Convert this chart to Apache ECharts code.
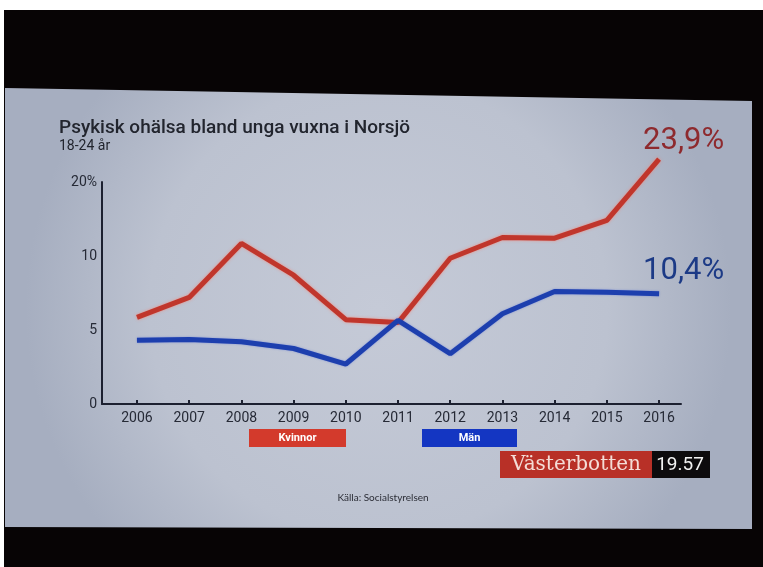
<!DOCTYPE html>
<html>
<head>
<meta charset="utf-8">
<script src="https://cdn.jsdelivr.net/npm/echarts@6/dist/echarts.min.js"></script>
<style>
html,body{margin:0;padding:0;background:#fff;}
#chart{width:763px;height:567px;}
</style>
</head>
<body>
<div id="chart"></div>
<script>
// ---- data ----
var years = [2006, 2007, 2008, 2009, 2010, 2011, 2012, 2013, 2014, 2015, 2016];
var seriesNames = ['Kvinnor', 'Män'];
var kvinnor = [5.85, 7.2, 10.85, 8.7, 5.7, 5.5, 9.85, 11.25, 11.2, 12.4, 16.55];
var man = [4.3, 4.35, 4.2, 3.75, 2.7, 5.65, 3.4, 6.1, 7.6, 7.55, 7.45];
var endLabels = ['23,9%', '10,4%'];
var yTickValues = [0, 5, 10, 15];
var yTickLabels = ['0', '5', '10', '20%'];
var titleText = 'Psykisk ohälsa bland unga vuxna i Norsjö';
var subtitleText = '18-24 år';
var sourceText = 'Källa: Socialstyrelsen';
var badgeRegion = 'Västerbotten';
var badgeTime = '19.57';

var lineColors = ['#c0362c', '#1d3fae'];
var labelColors = ['#8e2a2e', '#1c3a86'];

function buildData(vals) {
  return vals.map(function (v, i) { return [years[i], v]; });
}

function endLabel(idx, offset) {
  return {
    show: true,
    formatter: endLabels[idx],
    color: labelColors[idx],
    fontSize: 31,
    fontFamily: 'Roboto, sans-serif',
    fontWeight: 400,
    distance: 0,
    offset: offset
  };
}

var chart = echarts.init(document.getElementById('chart'), null, { renderer: 'canvas' });

var option = {
  backgroundColor: '#ffffff',
  animation: false,
  graphic: [
    { type: 'rect', z: -10, shape: { x: 4, y: 10, width: 759, height: 557 }, style: { fill: '#070405' } },
    {
      type: 'polygon', z: -9,
      shape: { points: [[5, 88], [752, 101], [752, 529], [5, 527]] },
      style: {
        fill: {
          type: 'radial', x: 0.5, y: 0.5, r: 0.8,
          colorStops: [
            { offset: 0, color: '#c5cad7' },
            { offset: 0.65, color: '#bcc2d0' },
            { offset: 1, color: '#a6aec0' }
          ]
        }
      }
    },
    // legend boxes
    { type: 'rect', shape: { x: 249, y: 429, width: 97, height: 18 }, style: { fill: '#d33a2c' } },
    { type: 'text', x: 297.5, y: 438, style: { text: seriesNames[0], fill: '#ffffff', font: 'bold 11px Roboto, sans-serif', align: 'center', verticalAlign: 'middle' } },
    { type: 'rect', shape: { x: 422, y: 429, width: 95, height: 18 }, style: { fill: '#1436c2' } },
    { type: 'text', x: 469.5, y: 438, style: { text: seriesNames[1], fill: '#ffffff', font: 'bold 11px Roboto, sans-serif', align: 'center', verticalAlign: 'middle' } },
    // badge
    { type: 'rect', shape: { x: 500, y: 451, width: 152, height: 27 }, style: { fill: '#b83027' } },
    { type: 'rect', shape: { x: 652, y: 451, width: 58, height: 27 }, style: { fill: '#0d0b0d' } },
    { type: 'text', x: 576, y: 465, style: { text: badgeRegion, fill: '#f4dcd6', font: '20px "DejaVu Serif", serif', align: 'center', verticalAlign: 'middle' } },
    { type: 'text', x: 680, y: 465, style: { text: badgeTime, fill: '#f2f2f2', font: '19px Roboto, sans-serif', align: 'center', verticalAlign: 'middle' } },
    // source
    { type: 'text', x: 383, y: 498, style: { text: sourceText, fill: '#2b2d36', font: '10px Lato, sans-serif', align: 'center', verticalAlign: 'middle' } }
  ],
  title: {
    text: titleText,
    subtext: subtitleText,
    left: 59,
    top: 119,
    itemGap: 1,
    padding: 0,
    textStyle: { color: '#22252e', fontSize: 19, fontWeight: 500, fontFamily: 'Roboto, sans-serif' },
    subtextStyle: { color: '#22252e', fontSize: 14, fontFamily: 'Roboto, sans-serif' }
  },
  grid: { left: 102, right: 82, top: 182, bottom: 163, containLabel: false },
  xAxis: {
    type: 'value',
    min: 2005.33,
    max: 2016.42,
    splitLine: { show: false },
    axisLine: { show: true, lineStyle: { color: '#1c2030', width: 2 } },
    axisTick: { show: true, inside: true, length: 4, customValues: years, lineStyle: { color: '#1c2030', width: 2 } },
    axisLabel: {
      customValues: years,
      formatter: function (v) { return String(v); },
      color: '#262a36', fontSize: 14, margin: 7, fontFamily: 'Roboto, sans-serif'
    }
  },
  yAxis: {
    type: 'value',
    min: 0,
    max: 15,
    interval: 5,
    splitLine: { show: false },
    axisLine: { show: true, lineStyle: { color: '#1c2030', width: 2 } },
    axisTick: { show: false },
    axisLabel: {
      formatter: function (v) { var i = yTickValues.indexOf(v); return i >= 0 ? yTickLabels[i] : ''; },
      color: '#262a36', fontSize: 14, margin: 5, fontFamily: 'Roboto, sans-serif'
    }
  },
  series: [
    {
      name: seriesNames[0], type: 'line', clip: false, symbol: 'none',
      data: buildData(kvinnor),
      endLabel: endLabel(0, [-16, -18]),
      lineStyle: { color: lineColors[0], width: 5, shadowColor: 'rgba(255,120,100,0.7)', shadowBlur: 3 },
      itemStyle: { color: lineColors[0] }
    },
    {
      name: seriesNames[1], type: 'line', clip: false, symbol: 'none',
      data: buildData(man),
      endLabel: endLabel(1, [-16, -22]),
      lineStyle: { color: lineColors[1], width: 5, shadowColor: 'rgba(60,90,220,0.5)', shadowBlur: 2 },
      itemStyle: { color: lineColors[1] }
    }
  ]
};
chart.setOption(option);
</script>
</body>
</html>
